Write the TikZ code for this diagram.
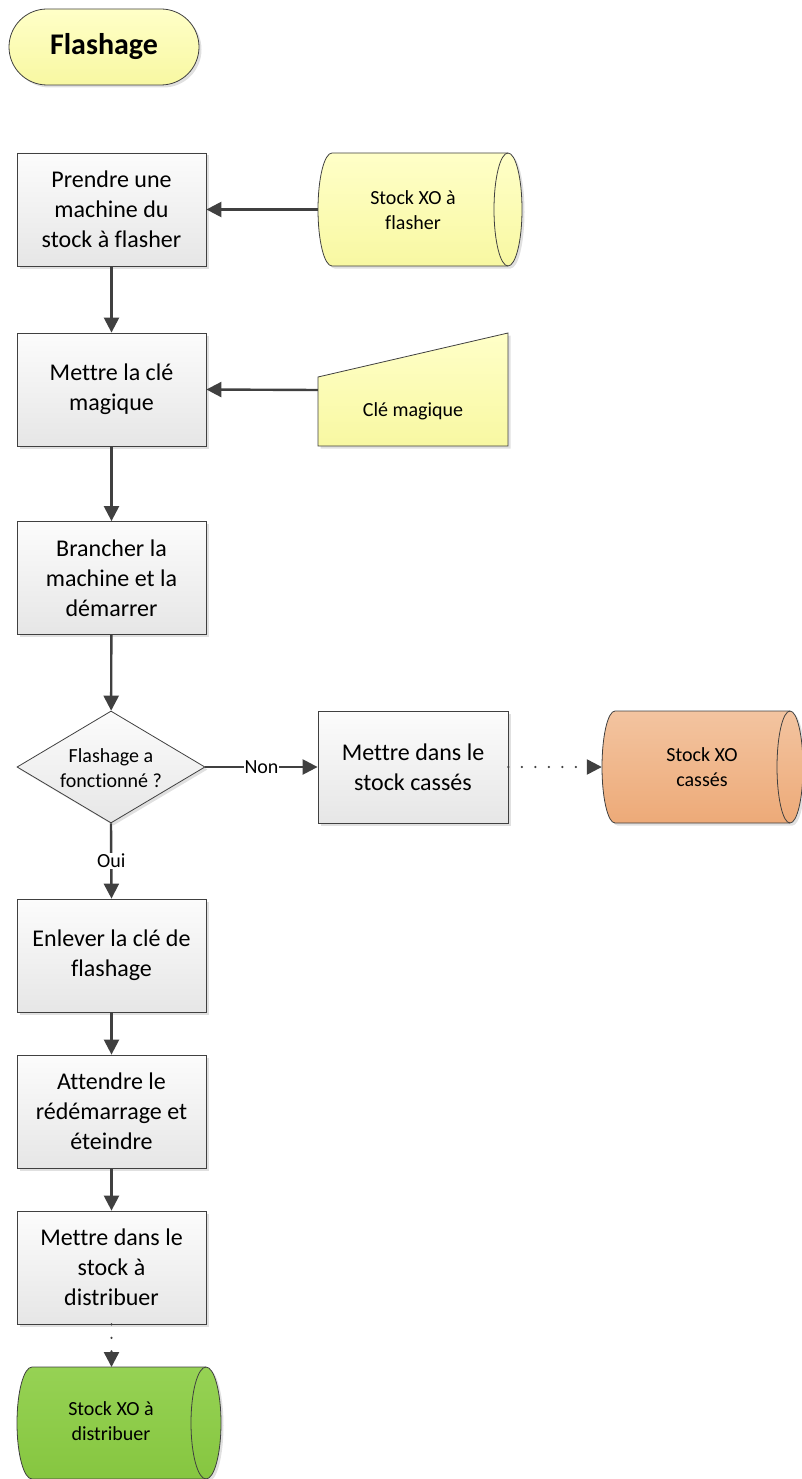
\documentclass[tikz,border=0pt]{standalone}
\usepackage{fontspec}
\setmainfont{Carlito}[Ligatures={NoCommon}]
\usetikzlibrary{arrows.meta,shadows,shapes.geometric}
\definecolor{bordc}{HTML}{404040}
\definecolor{arrc}{HTML}{404040}
\definecolor{boxtop}{HTML}{FCFCFC}
\definecolor{boxbot}{HTML}{E6E6E6}
\definecolor{yeltop}{HTML}{FFFFC8}
\definecolor{yelbot}{HTML}{F8F8A2}
\definecolor{orgtop}{HTML}{F3C4A0}
\definecolor{orgbot}{HTML}{EDAA78}
\definecolor{grntop}{HTML}{96D254}
\definecolor{grnbot}{HTML}{86C640}
\begin{document}
\begin{tikzpicture}[x=1pt,y=1pt,
  mysh/.style={drop shadow={shadow xshift=2.5pt,shadow yshift=-2.5pt,fill=black,opacity=0.12}},
  box/.style={draw=bordc,line width=0.8pt,top color=boxtop,bottom color=boxbot,
    minimum width=189pt,minimum height=113pt,inner sep=0pt,align=center,
    font=\fontsize{24}{30}\selectfont,mysh},
  decision/.style={diamond,draw=bordc,line width=0.8pt,top color=boxtop,bottom color=boxbot,
    minimum width=188pt,minimum height=112pt,inner sep=0pt,mysh},
  smalltxt/.style={align=center,font=\fontsize{20}{24.5}\selectfont,inner sep=0pt},
  anchorbox/.style={inner sep=0pt,minimum width=#1,minimum height=113pt},
  shapeline/.style={draw=bordc,line width=0.8pt},
  conn/.style={draw=arrc,line width=2.4pt,-{Triangle[length=15pt,width=15pt]}},
  dotconn/.style={draw=arrc,line width=2.4pt,line cap=round,dash pattern=on 0pt off 13.5pt,
    -{Triangle[length=15pt,width=15pt]}},
  lbl/.style={fill=white,inner sep=1pt,font=\fontsize{20}{24}\selectfont}
]
\useasboundingbox (0,0) rectangle (802,-1479);

% title
\node[draw=bordc,line width=0.8pt,rounded corners=38pt,top color=yeltop,bottom color=yelbot,
  minimum width=190pt,minimum height=76pt,inner sep=0pt,mysh,
  font=\fontsize{30}{36}\selectfont\bfseries] (title) at (104,-47) {Flashage};

% process boxes
\node[box] (b1) at (111.5,-209.5) {Prendre une\\machine du\\stock à flasher};
\node[box] (b2) at (111.5,-389.5) {Mettre la clé\\magique};
\node[box] (b3) at (111.5,-578) {Brancher la\\machine et la\\démarrer};
\node[decision] (d) at (111,-767) {};
\node[smalltxt] (dtxt) at (111,-768) {Flashage a\\fonctionné ?};
\node[box,minimum width=190pt,minimum height=112pt] (bc) at (413,-767) {Mettre dans le\\stock cassés};
\node[box] (b4) at (111.5,-955.5) {Enlever la clé de\\flashage};
\node[box] (b5) at (111.5,-1111.5) {Attendre le\\rédémarrage et\\éteindre};
\node[box] (b6) at (111.5,-1267.5) {Mettre dans le\\stock à\\distribuer};

% stock XO a flasher (cylinder)
\path[shapeline,top color=yeltop,bottom color=yelbot,mysh]
  (332,-153) -- (508,-153) arc[start angle=90,end angle=-90,x radius=14,y radius=56.5]
  -- (332,-266) arc[start angle=270,end angle=90,x radius=14,y radius=56.5] -- cycle;
\draw[shapeline] (508,-153) arc[start angle=90,end angle=270,x radius=14,y radius=56.5];
\node[anchorbox=204pt] (s1) at (420,-209.5) {};
\node[smalltxt] (s1txt) at (413,-210) {Stock XO à\\flasher};

% cle magique (manual input)
\path[shapeline,top color=yeltop,bottom color=yelbot,mysh]
  (318,-377) -- (508,-333) -- (508,-446) -- (318,-446) -- cycle;
\node[anchorbox=190pt] (cle) at (413,-390) {};
\node[smalltxt] (cletxt) at (413,-411) {Clé magique};

% stock XO casses
\path[shapeline,top color=orgtop,bottom color=orgbot,mysh]
  (615,-711) -- (790,-711) arc[start angle=90,end angle=-90,x radius=13,y radius=56]
  -- (615,-823) arc[start angle=270,end angle=90,x radius=13,y radius=56] -- cycle;
\draw[shapeline] (790,-711) arc[start angle=90,end angle=270,x radius=13,y radius=56];
\node[inner sep=0pt,minimum width=201pt,minimum height=112pt] (s2) at (702.5,-767) {};
\node[smalltxt] (s2txt) at (702,-767) {Stock XO\\cassés};

% stock XO a distribuer
\path[shapeline,top color=grntop,bottom color=grnbot,mysh]
  (32,-1367) -- (206,-1367) arc[start angle=90,end angle=-90,x radius=15,y radius=56]
  -- (32,-1479) arc[start angle=270,end angle=90,x radius=15,y radius=56] -- cycle;
\draw[shapeline] (206,-1367) arc[start angle=90,end angle=270,x radius=15,y radius=56];
\node[inner sep=0pt,minimum width=204pt,minimum height=112pt] (s3) at (119,-1423) {};
\node[smalltxt] (s3txt) at (111,-1421) {Stock XO à\\distribuer};

% connectors
\draw[conn] (s1.west) -- (b1.east);
\draw[conn] (cle.west) -- (b2.east);
\draw[conn] (b1) -- (b2);
\draw[conn] (b2) -- (b3);
\draw[conn] (b3) -- (d);
\draw[conn] (d.east) -- node[lbl] {Non} (bc.west);
\draw[dotconn] (bc.east) -- (s2.west);
\draw[conn] (d.south) -- node[lbl] {Oui} (b4.north);
\draw[conn] (b4) -- (b5);
\draw[conn] (b5) -- (b6);
\draw[dotconn] (b6.south) -- (111.5,-1367);
\end{tikzpicture}
\end{document}
